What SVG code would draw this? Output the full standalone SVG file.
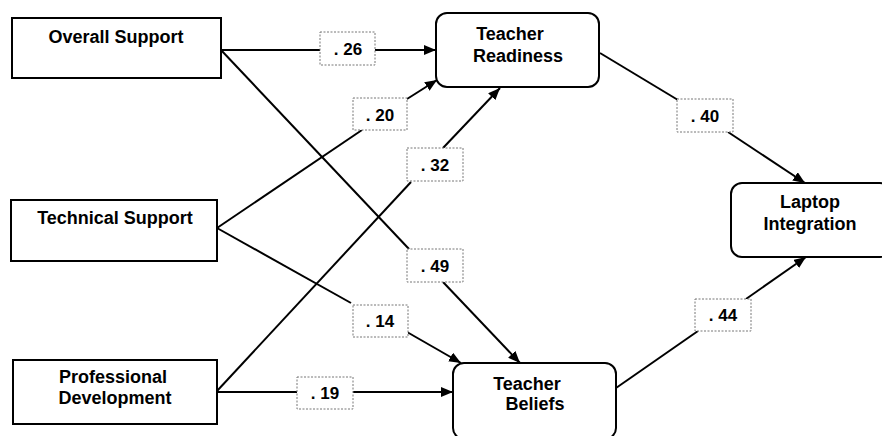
<svg xmlns="http://www.w3.org/2000/svg" width="882" height="436" viewBox="0 0 882 436">
  <style>
    .box { fill: #fff; stroke: #000; stroke-width: 2; }
    .lbl { font-family: "Liberation Sans", Arial, sans-serif; font-weight: bold; font-size: 18px; fill: #000; text-anchor: middle; }
    .wt { font-family: "Liberation Sans", Arial, sans-serif; font-weight: bold; font-size: 17px; fill: #000; text-anchor: middle; }
    .edge { fill: none; stroke: #000; stroke-width: 2; }
    .wbox { fill: #fff; stroke: #777; stroke-width: 1; stroke-dasharray: 2 1.5; }
  </style>
  <defs>
    <marker id="arrow" markerUnits="userSpaceOnUse" markerWidth="12" markerHeight="10" refX="12" refY="5" orient="auto">
      <path d="M0,0 L12,5 L0,10 z" fill="#000"/>
    </marker>
  </defs>

  <rect width="882" height="436" fill="#fff"/>

  <!-- path coefficients: each connector is split by its weight box -->
  <g id="connectors">
    <path class="edge" d="M221,50 L320,50"/>
    <path class="edge" d="M375,50 L436,50" marker-end="url(#arrow)"/>

    <path class="edge" d="M221,50 L409,249"/>
    <path class="edge" d="M443,282 L520,363" marker-end="url(#arrow)"/>

    <path class="edge" d="M217,228 L362,130"/>
    <path class="edge" d="M407,99 L437,80" marker-end="url(#arrow)"/>

    <path class="edge" d="M217,228 L351,303"/>
    <path class="edge" d="M407,332 L461,363" marker-end="url(#arrow)"/>

    <path class="edge" d="M217,391 L411,182"/>
    <path class="edge" d="M443,148 L500,88" marker-end="url(#arrow)"/>

    <path class="edge" d="M217,392 L297,392"/>
    <path class="edge" d="M353,392 L453,392" marker-end="url(#arrow)"/>

    <path class="edge" d="M600,53 L678,100"/>
    <path class="edge" d="M728,132 L805,183" marker-end="url(#arrow)"/>

    <path class="edge" d="M616,388 L698,331"/>
    <path class="edge" d="M746,299 L806,257" marker-end="url(#arrow)"/>

    <g id="weights">
      <rect class="wbox" x="320" y="32" width="55" height="33"/>
      <text class="wt" x="348" y="55">. 26</text>
      <rect class="wbox" x="353" y="98" width="54" height="32"/>
      <text class="wt" x="380" y="121">. 20</text>
      <rect class="wbox" x="407" y="148" width="56" height="33"/>
      <text class="wt" x="435" y="171">. 32</text>
      <rect class="wbox" x="677" y="99" width="56" height="33"/>
      <text class="wt" x="705" y="122">. 40</text>
      <rect class="wbox" x="407" y="249" width="56" height="33"/>
      <text class="wt" x="435" y="272">. 49</text>
      <rect class="wbox" x="353" y="305" width="55" height="32"/>
      <text class="wt" x="380" y="327">. 14</text>
      <rect class="wbox" x="297" y="377" width="56" height="32"/>
      <text class="wt" x="325" y="399">. 19</text>
      <rect class="wbox" x="695" y="299" width="56" height="32"/>
      <text class="wt" x="723" y="321">. 44</text>
    </g>
  </g>

  <g id="overall-support">
    <rect class="box" x="12" y="18" width="209" height="60"/>
    <text class="lbl" x="116" y="43">Overall Support</text>
  </g>

  <g id="technical-support">
    <rect class="box" x="11" y="200" width="206" height="61"/>
    <text class="lbl" x="115" y="224">Technical Support</text>
  </g>

  <g id="professional-development">
    <rect class="box" x="13" y="360" width="204" height="64"/>
    <text class="lbl" x="113" y="383">Professional</text>
    <text class="lbl" x="115" y="404">Development</text>
  </g>

  <g id="teacher-readiness">
    <rect class="box" x="436" y="13" width="163" height="74" rx="11"/>
    <text class="lbl" x="510" y="40">Teacher</text>
    <text class="lbl" x="518" y="62">Readiness</text>
  </g>

  <g id="teacher-beliefs">
    <rect class="box" x="453" y="363" width="163" height="76" rx="11"/>
    <text class="lbl" x="527" y="390">Teacher</text>
    <text class="lbl" x="535" y="410">Beliefs</text>
  </g>

  <g id="laptop-integration">
    <rect class="box" x="731" y="183" width="160" height="74" rx="11"/>
    <text class="lbl" x="810" y="208">Laptop</text>
    <text class="lbl" x="810" y="230">Integration</text>
  </g>
</svg>
